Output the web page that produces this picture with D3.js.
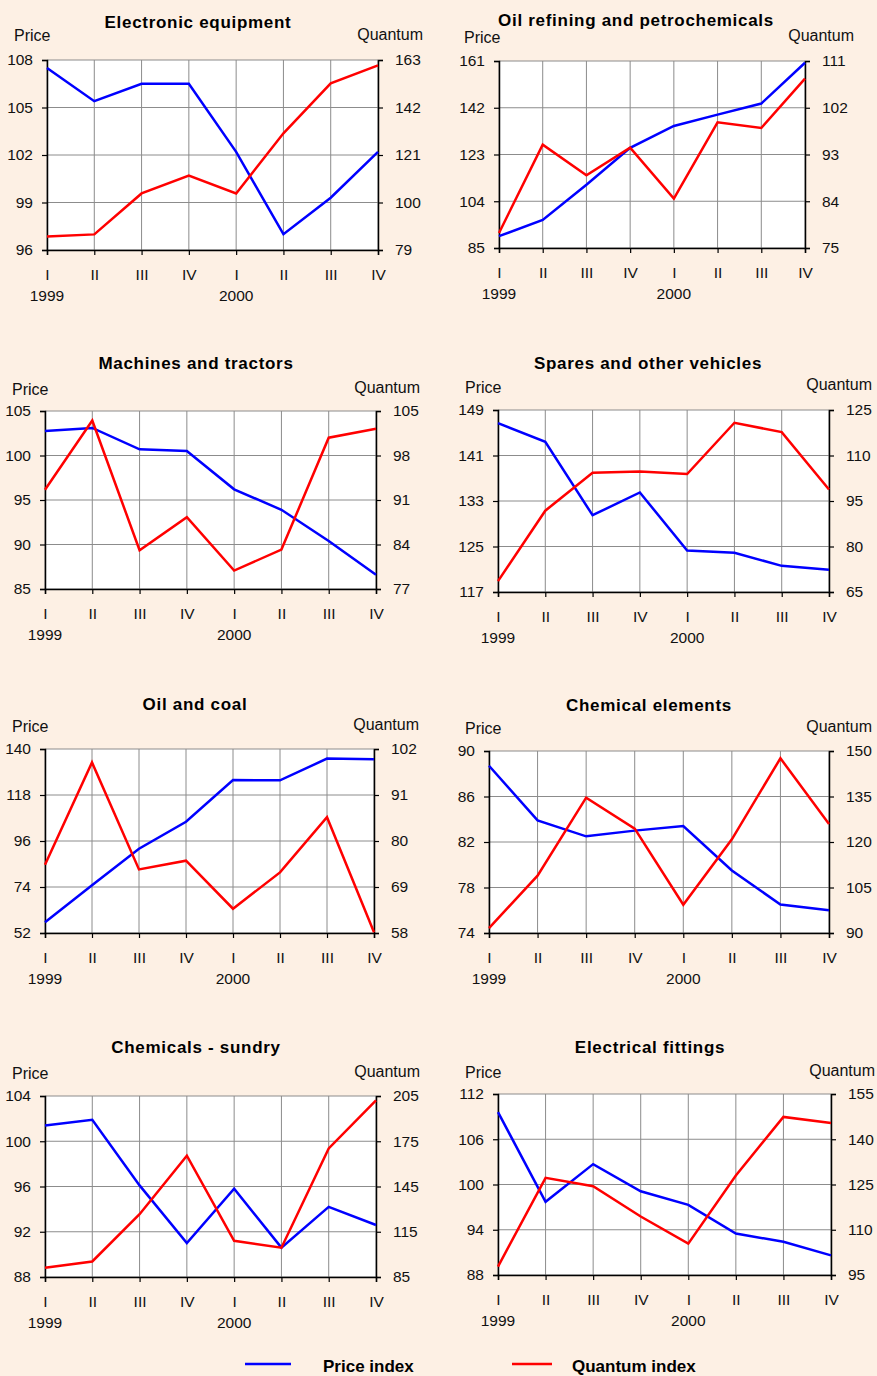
<!DOCTYPE html>
<html>
<head>
<meta charset="utf-8">
<script src="https://cdn.jsdelivr.net/npm/d3@7"></script>
<style>
  html, body { margin: 0; padding: 0; background: #fdf0e4; }
  svg { display: block; font-family: "Liberation Sans", Arial, sans-serif; }
</style>
</head>
<body>
<div id="chart"></div>
<script>
// quarters shared by every panel
const quarters = ["I", "II", "III", "IV", "I", "II", "III", "IV"];
const years = [{i: 0, label: "1999"}, {i: 4, label: "2000"}];

const titles = [
    "Electronic equipment", "Oil refining and petrochemicals",
    "Machines and tractors", "Spares and other vehicles",
    "Oil and coal", "Chemical elements",
    "Chemicals - sundry", "Electrical fittings"
];

// axis ticks (price on left, quantum on right)
const priceTicks = [
    [96, 99, 102, 105, 108],
    [85, 104, 123, 142, 161],
    [85, 90, 95, 100, 105],
    [117, 125, 133, 141, 149],
    [52, 74, 96, 118, 140],
    [74, 78, 82, 86, 90],
    [88, 92, 96, 100, 104],
    [88, 94, 100, 106, 112]
];
const quantumTicks = [
    [79, 100, 121, 142, 163],
    [75, 84, 93, 102, 111],
    [77, 84, 91, 98, 105],
    [65, 80, 95, 110, 125],
    [58, 69, 80, 91, 102],
    [90, 105, 120, 135, 150],
    [85, 115, 145, 175, 205],
    [95, 110, 125, 140, 155]
];

// series values
const priceIndex = [
    [107.5, 105.4, 106.5, 106.5, 102.2, 97.0, 99.3, 102.2],
    [89.8, 96.4, 110.7, 125.7, 134.6, 139.2, 143.7, 160.3],
    [102.75, 103.1, 100.7, 100.5, 96.2, 93.9, 90.4, 86.6],
    [146.7, 143.4, 130.5, 134.5, 124.3, 123.9, 121.6, 120.9],
    [57.1, 74.8, 92.3, 105.2, 125.2, 125.0, 135.4, 135.1],
    [88.7, 83.9, 82.5, 83.0, 83.4, 79.5, 76.5, 76.0],
    [101.4, 101.9, 96.1, 91.0, 95.8, 90.6, 94.2, 92.6],
    [109.6, 97.7, 102.7, 99.1, 97.3, 93.5, 92.4, 90.6]
];
const quantumIndex = [
    [85.0, 85.9, 104.0, 111.9, 104.0, 130.6, 152.7, 160.6],
    [77.9, 94.9, 89.0, 94.3, 84.5, 99.2, 98.1, 107.6],
    [92.6, 103.5, 83.1, 88.3, 79.9, 83.2, 100.8, 102.2],
    [68.6, 91.8, 104.3, 104.7, 103.9, 120.8, 117.7, 98.8],
    [74.3, 98.8, 73.2, 75.3, 63.8, 72.5, 85.7, 58.2],
    [91.6, 108.9, 134.6, 124.4, 99.3, 120.9, 147.6, 125.9],
    [91.2, 95.3, 126.6, 165.4, 109.0, 104.4, 170.2, 202.1],
    [97.8, 127.2, 124.4, 114.4, 105.4, 128.0, 147.4, 145.4]
];

// panel layout: plot box, title centre, label baselines
const layout = [
    {l: 47, r: 378, t: 60, b: 250, tx: 198, ty: 28, px: 14, py: 40.5, qx: 423, qy: 40},
    {l: 499, r: 805, t: 61, b: 248, tx: 636, ty: 26, px: 464, py: 42.5, qx: 854, qy: 40.5},
    {l: 45, r: 376, t: 411, b: 589, tx: 196, ty: 369, px: 12, py: 395, qx: 420, qy: 393},
    {l: 498, r: 829, t: 410, b: 592, tx: 648, ty: 369, px: 465, py: 393, qx: 872, qy: 390},
    {l: 45, r: 374, t: 749, b: 933, tx: 195, ty: 710, px: 12, py: 731.5, qx: 419, qy: 730},
    {l: 489, r: 829, t: 751, b: 933, tx: 649, ty: 711, px: 465, py: 734, qx: 872, qy: 732},
    {l: 45, r: 376, t: 1096, b: 1277, tx: 196, ty: 1053, px: 12, py: 1078.5, qx: 420, qy: 1077},
    {l: 498, r: 831, t: 1094, b: 1275, tx: 650, ty: 1053, px: 465, py: 1078, qx: 875, qy: 1076}
];

const width = 877, height = 1376;
const blue = "#0000ff", red = "#ff0000";
const tickFont = "15.5px", labelFont = "16px";

const svg = d3.select("#chart").append("svg")
    .attr("width", width)
    .attr("height", height);

svg.append("rect")
    .attr("width", width)
    .attr("height", height)
    .attr("fill", "#fdf0e4");

titles.forEach((title, k) => {
    let p = layout[k];
    let g = svg.append("g").attr("class", "panel");

    let x = d3.scalePoint()
        .domain(d3.range(quarters.length))
        .range([p.l, p.r]);
    let yP = d3.scaleLinear()
        .domain(d3.extent(priceTicks[k]))
        .range([p.b, p.t]);
    let yQ = d3.scaleLinear()
        .domain(d3.extent(quantumTicks[k]))
        .range([p.b, p.t]);

    // plot background
    g.append("rect")
        .attr("x", p.l).attr("y", p.t)
        .attr("width", p.r - p.l).attr("height", p.b - p.t)
        .attr("fill", "#fff");

    // grid
    g.append("g").selectAll("line.hgrid")
        .data(priceTicks[k])
        .enter().append("line")
        .attr("x1", p.l).attr("x2", p.r)
        .attr("y1", d => yP(d)).attr("y2", d => yP(d))
        .attr("stroke", "#8c8c8c").attr("stroke-width", 1);
    g.append("g").selectAll("line.vgrid")
        .data(d3.range(quarters.length))
        .enter().append("line")
        .attr("x1", d => x(d)).attr("x2", d => x(d))
        .attr("y1", p.t).attr("y2", p.b)
        .attr("stroke", "#8c8c8c").attr("stroke-width", 1);

    // axes
    let left = g.append("g")
        .attr("transform", `translate(${p.l},0)`)
        .call(d3.axisLeft(yP).tickValues(priceTicks[k]).tickSize(5).tickPadding(9));
    let right = g.append("g")
        .attr("transform", `translate(${p.r},0)`)
        .call(d3.axisRight(yQ).tickValues(quantumTicks[k]).tickSize(5).tickPadding(12));
    let bottom = g.append("g")
        .attr("transform", `translate(0,${p.b})`)
        .call(d3.axisBottom(x).tickFormat(i => quarters[i]).tickSize(5).tickPadding(14));

    [left, right, bottom].forEach(a => {
        a.select(".domain").attr("stroke", "#000").attr("stroke-width", 1.5);
        a.selectAll(".tick line").attr("stroke", "#000").attr("stroke-width", 1.2);
        a.selectAll("text")
            .attr("fill", "#111")
            .style("font-size", tickFont)
            .style("font-family", '"Liberation Sans", Arial, sans-serif');
    });

    // year labels
    g.selectAll("text.year")
        .data(years)
        .enter().append("text")
        .attr("class", "year")
        .attr("x", d => x(d.i))
        .attr("y", p.b + 51)
        .attr("text-anchor", "middle")
        .attr("fill", "#111")
        .style("font-size", tickFont)
        .text(d => d.label);

    // series
    let lineP = d3.line().x((d, i) => x(i)).y(d => yP(d));
    let lineQ = d3.line().x((d, i) => x(i)).y(d => yQ(d));

    g.append("path")
        .attr("d", lineP(priceIndex[k]))
        .attr("fill", "none")
        .attr("stroke", blue)
        .attr("stroke-width", 2.5);
    g.append("path")
        .attr("d", lineQ(quantumIndex[k]))
        .attr("fill", "none")
        .attr("stroke", red)
        .attr("stroke-width", 2.5);

    // labels
    g.append("text")
        .attr("x", p.tx).attr("y", p.ty)
        .attr("text-anchor", "middle")
        .style("font-size", "17px")
        .style("font-weight", "bold")
        .style("letter-spacing", "0.7px")
        .text(title);
    g.append("text")
        .attr("x", p.px).attr("y", p.py)
        .attr("fill", "#111")
        .style("font-size", labelFont)
        .text("Price");
    g.append("text")
        .attr("x", p.qx).attr("y", p.qy)
        .attr("text-anchor", "end")
        .attr("fill", "#111")
        .style("font-size", labelFont)
        .text("Quantum");
});

// legend
const legendItems = [
    {label: "Price index", color: blue, x1: 245, x2: 291, tx: 323},
    {label: "Quantum index", color: red, x1: 512, x2: 552, tx: 572}
];
let legend = svg.append("g").attr("class", "legend");
legend.selectAll("line")
    .data(legendItems)
    .enter().append("line")
    .attr("x1", d => d.x1).attr("x2", d => d.x2)
    .attr("y1", 1364).attr("y2", 1364)
    .attr("stroke", d => d.color)
    .attr("stroke-width", 2.5);
legend.selectAll("text")
    .data(legendItems)
    .enter().append("text")
    .attr("x", d => d.tx)
    .attr("y", 1372)
    .style("font-size", "17px")
    .style("font-weight", "bold")
    .text(d => d.label);
</script>
</body>
</html>
